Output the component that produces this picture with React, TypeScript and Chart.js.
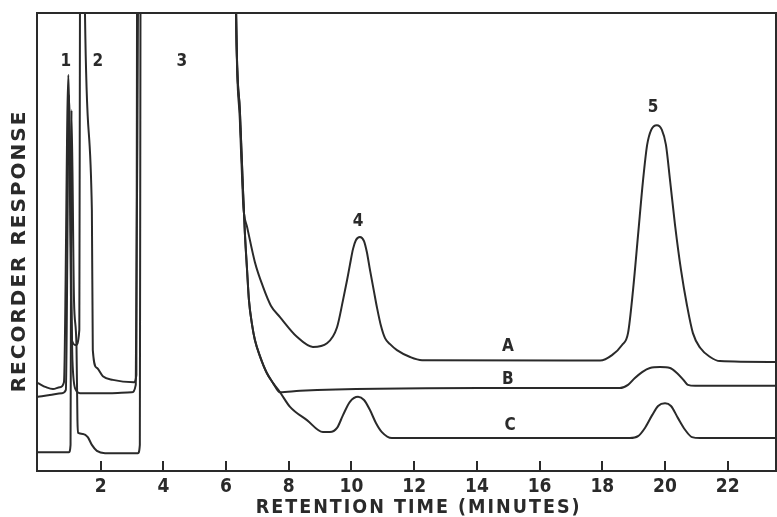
import React, { useEffect, useRef } from 'react';
import { Chart, registerables } from 'chart.js';

Chart.register(...registerables);

// Retention time (minutes) and recorder response (0-100 = chart height; >100 = off scale)
const timeA = [0, 0.26, 0.48, 0.70, 0.83, 0.97, 1.08, 1.21, 1.32, 1.34, 1.355, 1.48, 1.50, 1.72, 1.75, 1.88, 2.07, 2.39, 3.06, 3.14, 3.16, 3.18, 6.29, 6.32, 6.44, 6.54, 6.57, 6.67, 6.92, 7.18, 7.43, 7.72, 8.26, 8.77, 9.22, 9.54, 9.73, 9.86, 9.95, 10.05, 10.14, 10.27, 10.40, 10.49, 10.59, 10.72, 10.81, 10.94, 11.07, 11.23, 11.45, 11.87, 12.25, 17.93, 18.31, 18.63, 18.82, 18.98, 19.14, 19.30, 19.43, 19.56, 19.74, 19.90, 20.03, 20.16, 20.32, 20.51, 20.70, 20.89, 21.12, 21.44, 21.75, 23.54];
const responseA = [19.2, 18.3, 17.9, 18.3, 19.4, 86.5, 28.6, 27.5, 30.8, 100, 130, 130, 100, 57.0, 26.4, 22.5, 20.7, 19.9, 19.4, 21.0, 100, 130, 130, 100, 76.6, 59.2, 56.3, 53.3, 45.6, 40.2, 36.1, 33.6, 29.3, 27.1, 27.9, 31.4, 37.3, 41.7, 45.0, 48.5, 50.4, 51.1, 50.2, 47.8, 43.9, 39.1, 35.8, 31.7, 29.0, 27.7, 26.4, 24.9, 24.2, 24.1, 25.3, 27.5, 30.1, 39.5, 51.5, 63.5, 71.2, 74.5, 75.5, 74.5, 71.2, 63.5, 53.7, 43.9, 36.2, 30.1, 26.9, 24.9, 24.0, 23.8];

const timeB = [0, 0.38, 0.77, 0.89, 0.99, 1.10, 1.21, 1.34, 2.30, 2.99, 3.12, 3.19, 3.21, 6.29, 6.32, 6.44, 6.54, 6.60, 6.67, 6.73, 6.83, 6.92, 7.08, 7.30, 7.50, 7.72, 8.36, 14.10, 18.56, 18.82, 19.04, 19.27, 19.52, 19.84, 20.16, 20.38, 20.61, 20.73, 20.96, 23.54];
const responseB = [16.2, 16.6, 17.0, 17.7, 82.1, 24.2, 17.7, 17.0, 17.0, 17.2, 18.8, 100, 130, 130, 100, 78.8, 61.4, 52.0, 43.9, 37.3, 31.9, 28.6, 25.1, 21.4, 19.2, 17.2, 17.5, 18.1, 18.1, 18.8, 20.3, 21.6, 22.5, 22.7, 22.5, 21.4, 19.7, 18.8, 18.6, 18.6];

const timeC = [0, 0.99, 1.04, 1.05, 1.07, 1.15, 1.23, 1.26, 1.28, 1.44, 1.59, 1.72, 1.88, 2.14, 3.19, 3.25, 3.27, 3.29, 6.29, 6.32, 6.44, 6.54, 6.60, 6.67, 6.73, 6.83, 6.92, 7.08, 7.30, 7.50, 7.72, 8.04, 8.58, 9.09, 9.31, 9.54, 9.73, 9.95, 10.21, 10.40, 10.59, 10.78, 10.97, 11.29, 18.88, 19.14, 19.36, 19.59, 19.78, 20.00, 20.19, 20.41, 20.64, 20.86, 21.12, 23.54];
const responseC = [4.1, 4.1, 5.7, 30.8, 78.8, 37.3, 27.1, 11.1, 8.3, 8.1, 7.4, 5.7, 4.4, 3.9, 3.9, 5.7, 100, 130, 130, 100, 78.8, 61.4, 52.0, 43.9, 37.3, 31.9, 28.6, 25.1, 21.4, 19.2, 17.2, 14.0, 11.1, 8.5, 8.5, 9.4, 12.2, 15.1, 16.2, 15.5, 13.3, 10.5, 8.5, 7.2, 7.2, 7.6, 9.4, 12.2, 14.2, 14.8, 14.2, 11.6, 9.0, 7.4, 7.2, 7.2];

const xTickValues = [2, 4, 6, 8, 10, 12, 14, 16, 18, 20, 22];

const annotationTexts = ['1', '2', '3', '4', '5', 'A', 'B', 'C'];
const annotationTimes = [0.89, 1.91, 4.59, 10.21, 19.62, 14.99, 14.99, 15.06];
const annotationResponses = [89.3, 89.3, 89.3, 54.4, 79.3, 27.1, 19.9, 10.0];

const INK = '#2a2a2a';
const FONT = '"DejaVu Sans", sans-serif';
const FONT_COND = '"DejaVu Sans Condensed", "DejaVu Sans", sans-serif';

export default function App() {
  const ref = useRef<HTMLCanvasElement>(null);

  useEffect(() => {
    const canvas = ref.current;
    if (!canvas) return;
    const zip = (xs: number[], ys: number[]) => xs.map((x, i) => ({ x, y: ys[i] }));

    const decorPlugin = {
      id: 'decor',
      beforeDraw(chart: any) {
        chart.ctx.letterSpacing = '2px';
      },
      beforeDatasetsDraw(chart: any) {
        chart.ctx.letterSpacing = '0px';
      },
      afterDraw(chart: any) {
        const ctx = chart.ctx;
        const { left, right, top, bottom } = chart.chartArea;
        const xs = chart.scales.x;
        const ys = chart.scales.y;
        ctx.save();
        ctx.letterSpacing = '0px';
        ctx.strokeStyle = INK;
        ctx.lineWidth = 2;
        ctx.beginPath();
        ctx.moveTo(left, top);
        ctx.lineTo(right, top);
        ctx.lineTo(right, bottom);
        ctx.stroke();
        ctx.beginPath();
        xTickValues.forEach((v) => {
          const px = Math.round(xs.getPixelForValue(v));
          ctx.moveTo(px, bottom);
          ctx.lineTo(px, bottom - 10);
        });
        ctx.stroke();
        ctx.fillStyle = INK;
        ctx.font = 'bold 17px ' + FONT_COND;
        ctx.textAlign = 'center';
        ctx.textBaseline = 'middle';
        annotationTexts.forEach((t, i) => {
          ctx.fillText(t, xs.getPixelForValue(annotationTimes[i]), ys.getPixelForValue(annotationResponses[i]));
        });
        ctx.restore();
        ctx.letterSpacing = '0px';
      },
    };

    const lineStyle = {
      borderColor: INK,
      borderWidth: 2,
      pointRadius: 0,
      fill: false,
      cubicInterpolationMode: 'monotone' as const,
      borderJoinStyle: 'round' as const,
      borderCapStyle: 'round' as const,
    };

    const chart = new Chart(canvas, {
      type: 'line',
      data: {
        datasets: [
          { label: 'A', data: zip(timeA, responseA), ...lineStyle },
          { label: 'B', data: zip(timeB, responseB), ...lineStyle },
          { label: 'C', data: zip(timeC, responseC), ...lineStyle },
        ],
      },
      options: {
        animation: false,
        responsive: false,
        events: [],
        layout: { padding: { top: 13, right: 1, left: 0, bottom: 0 } },
        plugins: { legend: { display: false }, tooltip: { enabled: false } },
        scales: {
          x: {
            type: 'linear',
            min: -0.03,
            max: 23.54,
            afterBuildTicks: (s: any) => {
              s.ticks = xTickValues.map((v) => ({ value: v }));
            },
            afterFit: (s: any) => {
              s.height = 46;
            },
            grid: { display: false, drawTicks: false },
            border: { display: true, color: INK, width: 2 },
            ticks: {
              z: 1,
              autoSkip: false,
              maxRotation: 0,
              padding: 5,
              color: INK,
              font: { family: FONT_COND, size: 19, weight: 'bold' },
            },
            title: {
              display: true,
              text: '   RETENTION TIME (MINUTES)',
              color: INK,
              font: { family: FONT_COND, size: 19.5, weight: 'bold' },
              padding: { top: 0, bottom: -2.2 },
            },
          },
          y: {
            type: 'linear',
            min: 0,
            max: 100,
            afterFit: (s: any) => {
              s.width = 37;
            },
            grid: { display: false, drawTicks: false },
            border: { display: true, color: INK, width: 2 },
            ticks: { display: false },
            title: {
              display: true,
              text: 'RECORDER RESPONSE  ',
              color: INK,
              font: { family: FONT, size: 20, weight: 'bold' },
              padding: { top: 8, bottom: 0 },
            },
          },
        },
      },
      plugins: [decorPlugin],
    });

    return () => chart.destroy();
  }, []);

  return (
    <div style={{ position: 'fixed', left: 0, top: 0, width: 777, height: 517, background: '#ffffff' }}>
      <canvas ref={ref} width={777} height={517} style={{ display: 'block' }} />
    </div>
  );
}
